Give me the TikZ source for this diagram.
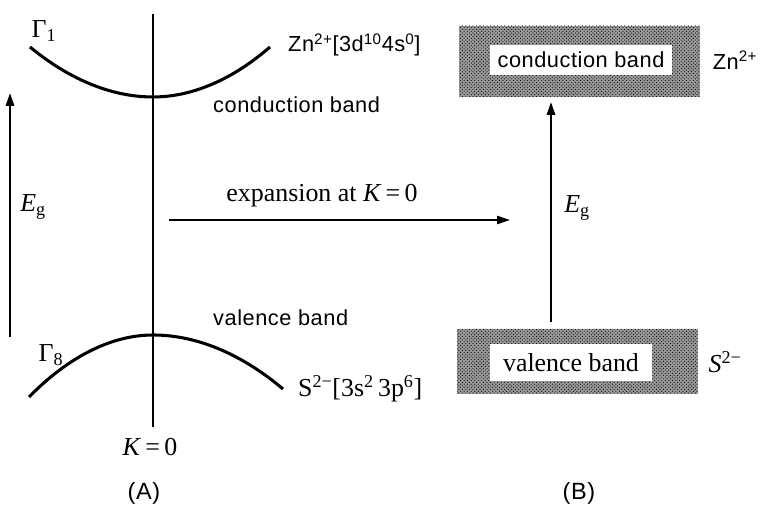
\documentclass[tikz,border=0pt]{standalone}
\usepackage{fontspec}
\setmainfont{Liberation Serif}
\setsansfont[LetterSpace=2.5]{Liberation Sans}
\usetikzlibrary{arrows.meta,fit,patterns}

\tikzset{
  axis/.style={line width=1.1pt},
  curve/.style={line width=2.6pt},
  gap/.style={-{Triangle[length=11pt,width=7pt]}, line width=2pt},
  shadebox/.style={draw=none, inner sep=0pt, fill=black!40, postaction={pattern=crosshatch dots, pattern color=black}},
  bandtext/.style={fill=white, inner sep=0pt, font=\sffamily\fontsize{18.5}{21}\selectfont},
  bandtextr/.style={fill=white, inner sep=0pt, font=\fontsize{22}{25}\selectfont},
  lbl/.style={font=\fontsize{22}{25}\selectfont, inner sep=0pt},
  slbl/.style={font=\sffamily\fontsize{18.5}{21}\selectfont, inner sep=0pt}
}

\begin{document}
\begin{tikzpicture}[x=0.85pt, y=-0.85pt]
  \useasboundingbox (0,0) rectangle (765,513);

  % (A) bands near K = 0
  \coordinate (ktop) at (153,14);
  \coordinate (kbot) at (153,427);
  \draw[axis] (ktop) -- (kbot);
  \draw[curve] (30,47) parabola bend (153,97) (270,47);
  \draw[curve] (29,397) parabola bend (153,335) (283,389);

  \node[lbl] (g1) at (44,31) {Γ\textsubscript{1}};
  \node[lbl] (g8) at (51,355) {Γ\textsubscript{8}};
  \node[slbl, anchor=west] (zn) at (288,45) {Zn\textsuperscript{2+}[3d\textsuperscript{10}4s\textsuperscript{0}]};
  \node[slbl, anchor=west] (cb) at (213,105) {conduction band};
  \node[slbl, anchor=west] (vb) at (213,318) {valence band};
  \node[lbl, anchor=west] (sx) at (298,389) {S\textsuperscript{2−}[3s\textsuperscript{2}\,3p\textsuperscript{6}]};
  \node[lbl] (k0) at (150,447) {\textit{K}\,=\,0};
  \node[slbl, font=\sffamily\fontsize{20}{22}\selectfont] (la) at (144,493) {(A)};

  % gap, left
  \coordinate (eltail) at (10,337);
  \coordinate (eltip) at (10,93);
  \draw[gap] (eltail) -- (eltip);
  \node[lbl] (egl) at (33,207) {\textit{E}\textsubscript{g}};

  % expansion
  \coordinate (xa) at (169,220);
  \coordinate (xb) at (510,220);
  \draw[gap, line width=1.5pt] (xa) -- (xb);
  \node[lbl] (xl) at (322,196) {expansion at \textit{K}\,=\,0};

  % (B) band edges
  \coordinate (c1) at (459,26); \coordinate (c2) at (700,97);
  \node[shadebox, fit=(c1)(c2)] (cbox) {};
  \node[bandtext, minimum width=155pt, minimum height=25.5pt] (ctext) at (581,60) {conduction band};
  \coordinate (v1) at (457,329); \coordinate (v2) at (698,394);
  \node[shadebox, fit=(v1)(v2)] (vbox) {};
  \node[bandtextr, minimum width=138pt, minimum height=31.5pt] (vtext) at (571,362.5) {valence band};

  \node[slbl] (znr) at (735,60) {Zn\textsuperscript{2+}};
  \node[lbl] (sr) at (725,362) {\textit{S}\textsuperscript{2−}};

  \coordinate (ertail) at (551,322);
  \coordinate (ertip) at (551,102);
  \draw[gap] (ertail) -- (ertip);
  \node[lbl] (egr) at (577,208) {\textit{E}\textsubscript{g}};
  \node[slbl, font=\sffamily\fontsize{20}{22}\selectfont] (lb) at (579,493) {(B)};
\end{tikzpicture}
\end{document}
